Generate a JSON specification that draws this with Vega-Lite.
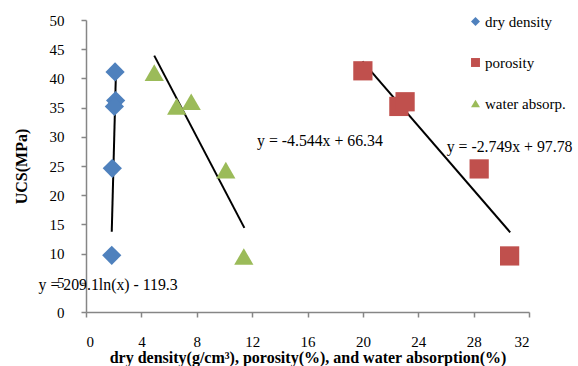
{
  "$schema": "https://vega.github.io/schema/vega-lite/v6.json",
  "width": 443,
  "height": 292,
  "autosize": {"type": "none"},
  "padding": {"left": 86, "top": 20, "right": 49, "bottom": 54},
  "background": "white",
  "config": {
    "view": {"stroke": null},
    "font": "Liberation Serif",
    "axis": {"grid": false, "domainColor": "#868686", "tickColor": "#868686", "labelFont": "Liberation Serif", "labelFontSize": 15, "labelColor": "black", "titleFont": "Liberation Serif", "titleFontSize": 16, "titleColor": "black", "titleFontWeight": "bold", "tickSize": 5, "domainWidth": 1.5, "tickWidth": 1.5, "labelOverlap": false},
    "legend": {"labelFont": "Liberation Serif", "labelFontSize": 15, "labelColor": "black"}
  },
  "datasets": {
    "pts": [
      {"series": "dry density", "x": 2.1, "y": 41.1},
      {"series": "dry density", "x": 2.14, "y": 36.2},
      {"series": "dry density", "x": 2.05, "y": 35.2},
      {"series": "dry density", "x": 1.9, "y": 24.6},
      {"series": "dry density", "x": 1.86, "y": 9.7},
      {"series": "porosity", "x": 20.0, "y": 41.3},
      {"series": "porosity", "x": 22.6, "y": 35.2},
      {"series": "porosity", "x": 23.05, "y": 36.0},
      {"series": "porosity", "x": 28.4, "y": 24.5},
      {"series": "porosity", "x": 30.6, "y": 9.6},
      {"series": "water absorp.", "x": 4.93, "y": 41.0},
      {"series": "water absorp.", "x": 6.55, "y": 35.2},
      {"series": "water absorp.", "x": 7.6, "y": 36.0},
      {"series": "water absorp.", "x": 10.1, "y": 24.3},
      {"series": "water absorp.", "x": 11.4, "y": 9.5}
    ],
    "trend": [
      {"series": "dry density", "x": 1.86, "y": 13.75},
      {"series": "dry density", "x": 2.17, "y": 41.7},
      {"series": "porosity", "x": 19.97, "y": 42.9},
      {"series": "porosity", "x": 30.64, "y": 13.65},
      {"series": "water absorp.", "x": 4.93, "y": 43.9},
      {"series": "water absorp.", "x": 11.44, "y": 14.4}
    ],
    "labels": [
      {"x": 1.6, "y": 4.6, "text": "y = 209.1ln(x) - 119.3"},
      {"x": 16.9, "y": 29.2, "text": "y = -4.544x + 66.34"},
      {"x": 30.6, "y": 28.3, "text": "y = -2.749x + 97.78"}
    ]
  },
  "encoding": {
    "x": {"field": "x", "type": "quantitative", "scale": {"domain": [0, 32], "nice": false, "zero": false}, "axis": {"values": [0, 4, 8, 12, 16, 20, 24, 28, 32], "tickCount": 40, "labelOverlap": false, "labelFont": "Liberation Serif", "labelFontSize": 15, "title": "dry density(g/cm³), porosity(%), and water absorption(%)", "labelPadding": 17, "titlePadding": 0}},
    "y": {"field": "y", "type": "quantitative", "scale": {"domain": [0, 50], "nice": false, "zero": false}, "axis": {"values": [0, 5, 10, 15, 20, 25, 30, 35, 40, 45, 50], "tickCount": 40, "labelOverlap": false, "labelFont": "Liberation Serif", "labelFontSize": 15, "title": "UCS(MPa)", "labelPadding": 17, "titlePadding": 20}}
  },
  "layer": [
    {
      "data": {"name": "trend"},
      "mark": {"type": "line", "color": "black", "strokeWidth": 2},
      "encoding": {
        "detail": {"field": "series"}
      }
    },
    {
      "data": {"name": "pts"},
      "mark": {"type": "point", "filled": true, "opacity": 1, "size": 370},
      "encoding": {
        "color": {"field": "series", "type": "nominal", "scale": {"domain": ["dry density", "porosity", "water absorp."], "range": ["#4F81BD", "#C0504D", "#9BBB59"]}, "legend": {"title": null, "orient": "none", "legendX": 382, "legendY": -6, "symbolSize": 80, "rowPadding": 25, "labelOffset": 2, "symbolOpacity": 1, "labelFont": "Liberation Serif", "labelFontSize": 15}},
        "shape": {"field": "series", "type": "nominal", "scale": {"domain": ["dry density", "porosity", "water absorp."], "range": ["diamond", "square", "triangle-up"]}}
      }
    },
    {
      "data": {"name": "labels"},
      "mark": {"type": "text", "font": "Liberation Serif", "fontSize": 15.8, "color": "black", "align": "center", "baseline": "middle"},
      "encoding": {
        "text": {"field": "text"}
      }
    }
  ]
}
